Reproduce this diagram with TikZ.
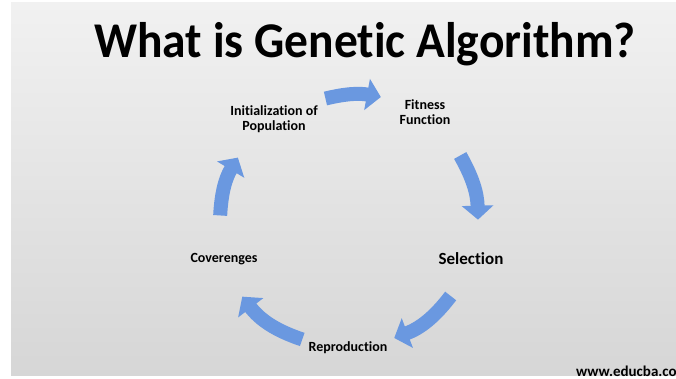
\documentclass[tikz,border=0pt]{standalone}
\usepackage{fontspec}
\setmainfont{Carlito}[Ligatures=NoCommon]
\usetikzlibrary{arrows.meta}
\definecolor{arrowblue}{RGB}{106,152,224}
\definecolor{bgtop}{RGB}{241,241,241}
\definecolor{bgbottom}{RGB}{214,214,214}

\begin{document}
\begin{tikzpicture}[x=1pt,y=1pt,
    steplabel/.style={font=\fontsize{14}{15.5}\selectfont\bfseries,align=center,inner sep=1pt},
    cyclearrow/.style={line width=14pt,draw=arrowblue,-{Triangle[width=31pt,length=14pt]}}]
            \useasboundingbox (0,0) rectangle (676,379);
            \fill[white](0,0) rectangle (676,379);
            \shade[top color=bgtop,bottom color=bgbottom](11,3) rectangle (676,376);

            \node[font=\fontsize{50}{56}\selectfont\bfseries,anchor=base,inner sep=0pt,xscale=0.95](title)at(365,321){What is Genetic Algorithm?};

            \node[steplabel](n1)at(274,260){Initialization of\\Population};
            \node[steplabel](n2)at(425,267){Fitness\\Function};
            \node[steplabel,font=\fontsize{17}{19}\selectfont\bfseries](n3)at(471,120){Selection};
            \node[steplabel](n4)at(348,31){Reproduction};
            \node[steplabel](n5)at(224,120){Coverenges};

            \node[font=\fontsize{15}{17}\selectfont\bfseries,anchor=west,inner sep=0pt](web)at(576,8){www.educba.com};

            % ends of the curved arrows round the cycle
            \begin{scope}[shift={(345,157)}]
            \coordinate (t1) at (99:125pt);
            \coordinate (h1) at (74:130pt);
            \coordinate (t2) at (30:133pt);
            \coordinate (h2) at (1:133pt);
            \coordinate (t3) at (-35:129pt);
            \coordinate (h3) at (-67:126pt);
            \coordinate (t4) at (-110:125pt);
            \coordinate (h4) at (-144:127pt);
            \coordinate (t5) at (177:125pt);
            \coordinate (h5) at (149:125pt);
            \end{scope}

            \draw[cyclearrow](t1)to[bend left=12](h1);
            \draw[cyclearrow](t2)to[bend left=14](h2);
            \draw[cyclearrow](t3)to[bend left=16](h3);
            \draw[cyclearrow](t4)to[bend left=17](h4);
            \draw[cyclearrow](t5)to[bend left=14](h5);
\end{tikzpicture}
\end{document}
